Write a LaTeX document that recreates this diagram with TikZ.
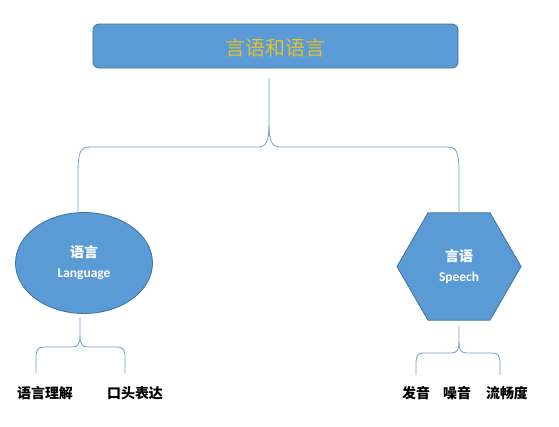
\documentclass[tikz,border=0pt]{standalone}
\usepackage{fontspec}
\newfontfamily\cjk{Noto Sans CJK SC}
\setsansfont{Carlito}
\usetikzlibrary{shapes.geometric}
\definecolor{boxfill}{HTML}{5B9BD5}
\definecolor{boxline}{HTML}{41719C}
\definecolor{bracecol}{HTML}{6F9FD2}
\definecolor{titlecol}{HTML}{E3BF2C}

\begin{document}
\begin{tikzpicture}[x=1bp,y=-1bp,
  shapebox/.style={fill=boxfill,draw=boxline,line width=0.8bp,text=white,align=center,
    font=\cjk\bfseries\fontsize{14}{20}\selectfont},
  brace/.style={draw=bracecol,line width=0.8bp},
  leaf/.style={font=\cjk\bfseries\fontsize{14}{14}\selectfont,text=black}]
\useasboundingbox (0,0) rectangle (559,426);
% top title
\node[shapebox,rounded corners=6bp,minimum width=365bp,minimum height=44bp,
  text=titlecol,font=\cjk\fontsize{20}{20}\selectfont,text height=20bp,text depth=2bp] (title) at (275.5,46) {言语和语言};
% the two branches
\node[shapebox,ellipse,minimum width=137bp,minimum height=101bp] (lang) at (84,263)
  {语言\\{\sffamily\fontsize{13.5}{13.5}\selectfont Language}};
\node[shapebox,regular polygon,regular polygon sides=6,minimum size=124bp,inner sep=0pt] (speech) at (459,266.5)
  {言语\\{\sffamily\fontsize{13.5}{13.5}\selectfont Speech}};
% leaves
\node[leaf] (comp) at (45,393) {语言理解};
\node[leaf] (oral) at (135,393) {口头表达};
\node[leaf] (pron) at (416,393) {发音};
\node[leaf] (voice) at (457,393) {噪音};
\node[leaf] (flu) at (507,393) {流畅度};
% brace under the title
\coordinate (tb) at (269,78);
\coordinate (tl) at (78,175);
\draw[brace] (tb) -- (269,125) .. controls (269,141) and (266,147) .. (258,147) -- (90,147)
  .. controls (80,147) and (78,152) .. (tl) -- (tl |- lang.north);
\draw[brace] (269,125) .. controls (269,141) and (272,147) .. (280,147) -- (447,147)
  .. controls (457,147) and (459,152) .. (459,175) -- (speech.north);
% brace under Language
\coordinate (lb) at (80,317);
\coordinate (lb1) at (36,373);
\coordinate (lb2) at (125,373);
\draw[brace] (lb) -- (80,336) .. controls (80,344) and (78,347) .. (72,347) -- (45,347)
  .. controls (38,347) and (36,349) .. (36,358) -- (lb1);
\draw[brace] (80,336) .. controls (80,344) and (82,347) .. (88,347) -- (116,347)
  .. controls (123,347) and (125,349) .. (125,358) -- (lb2);
% brace under Speech
\coordinate (sb) at (459,326);
\coordinate (sb1) at (416,375);
\coordinate (sb2) at (500,375);
\draw[brace] (sb) -- (459,342) .. controls (459,350) and (457,353) .. (451,353) -- (425,353)
  .. controls (418,353) and (416,355) .. (416,364) -- (sb1);
\draw[brace] (459,342) .. controls (459,350) and (461,353) .. (467,353) -- (491,353)
  .. controls (498,353) and (500,355) .. (500,364) -- (sb2);
\end{tikzpicture}
\end{document}
